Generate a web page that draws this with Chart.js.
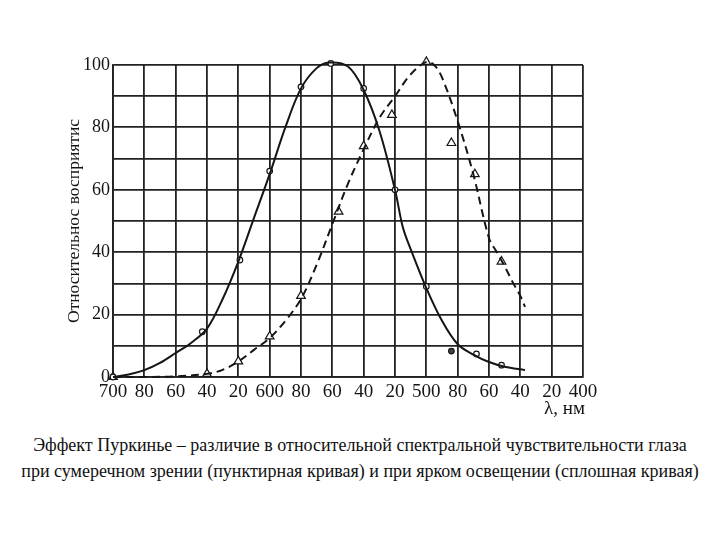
<!DOCTYPE html>
<html>
<head>
<meta charset="utf-8">
<script src="https://cdn.jsdelivr.net/npm/chart.js@4"></script>
<style>
  html, body { margin: 0; padding: 0; background: #fff; }
  #wrap { position: relative; width: 720px; height: 540px; }
  #c { position: absolute; left: 0; top: 0; }
  #cap { position: absolute; left: 0; top: 432px; width: 720px; text-align: center;
         font-family: "Times New Roman", "Liberation Serif", Tinos, "Noto Serif", "DejaVu Serif", serif; font-size: 18px; line-height: 26px; color: #111; }
</style>
</head>
<body>
<div id="wrap">
  <canvas id="c" width="720" height="420"></canvas>
  <div id="cap">Эффект Пуркинье – различие в относительной спектральной чувствительности глаза<br>при сумеречном зрении (пунктирная кривая) и при ярком освещении (сплошная кривая)</div>
</div>
<script>
// X tick values (nm) and their printed labels
const xTickValues = [700, 680, 660, 640, 620, 600, 580, 560, 540, 520, 500, 480, 460, 440, 420, 400];
const xTickLabels = ['700', '80', '60', '40', '20', '600', '80', '60', '40', '20', '500', '80', '60', '40', '20', '400'];
const yTickLabels = ['0', '20', '40', '60', '80', '100'];
const xAxisTitle = 'λ, нм';
const yAxisTitle = 'Относительнос восприятис';

// Photopic (bright light) – solid curve
const photopicCurveX = [700, 690, 680, 670, 660, 650, 640, 630, 620, 610, 600, 590, 580, 570, 562, 550, 540, 530, 520, 515, 510, 500, 490, 480, 470, 460, 450, 437];
const photopicCurveY = [0, 0.8, 2.2, 4.5, 7.7, 11, 15.5, 25, 37, 51, 65, 80, 92.5, 99, 100.8, 99.5, 92, 79, 60, 48, 41, 28.5, 18, 10.5, 7.2, 4.8, 3.3, 2.2];
// Photopic measured points (circles)
const photopicPtsX = [700, 643, 619, 600, 580, 561, 540, 520, 500, 484, 468, 452];
const photopicPtsY = [0, 14.5, 37.5, 66, 93, 100.5, 92.5, 60, 29, 8.3, 7.4, 3.8];

// Scotopic (twilight) – dashed curve
const scotopicCurveX = [700, 680, 660, 640, 630, 620, 610, 600, 590, 580, 570, 560, 550, 540, 530, 520, 510, 500, 495, 490, 480, 470, 460, 455, 450, 445, 440, 437];
const scotopicCurveY = [0, 0, 0.2, 1, 2.3, 5, 8.7, 12.5, 18, 25, 36, 49, 62, 73, 83, 90, 97, 101, 100, 96, 82, 65, 44.5, 40, 35.5, 30.5, 26, 22.5];
// Scotopic measured points (triangles)
const scotopicPtsX = [700, 640, 620, 600, 580, 556, 540, 522, 500, 484, 469, 452];
const scotopicPtsY = [0, 1, 5, 13, 26, 53, 74, 84, 101, 75, 65, 37];

const toXY = (xs, ys) => xs.map((x, i) => ({ x: x, y: ys[i] }));
const SERIF = '"Times New Roman", "Liberation Serif", Tinos, "Noto Serif", "DejaVu Serif", serif';
const INK = '#151515';
const GRID = '#222222';

const xTitlePlugin = {
  id: 'xTitle',
  afterDraw(chart) {
    const { ctx, chartArea } = chart;
    ctx.save();
    ctx.fillStyle = INK;
    ctx.font = '19px ' + SERIF;
    ctx.textAlign = 'right';
    ctx.textBaseline = 'middle';
    ctx.fillText(xAxisTitle, chartArea.right + 2, chartArea.bottom + 32);
    ctx.restore();
  }
};

new Chart(document.getElementById('c'), {
  type: 'scatter',
  data: {
    datasets: [
      { label: 'photopic curve', data: toXY(photopicCurveX, photopicCurveY), showLine: true, clip: false,
        borderColor: INK, borderWidth: 2, pointRadius: 0, tension: 0.35, fill: false },
      { label: 'scotopic curve', data: toXY(scotopicCurveX, scotopicCurveY), showLine: true, clip: false,
        borderColor: INK, borderWidth: 2, borderDash: [8, 5], pointRadius: 0, tension: 0.35, fill: false },
      { label: 'photopic points', data: toXY(photopicPtsX, photopicPtsY), showLine: false, clip: false,
        pointStyle: 'circle', pointRadius: 2.8, pointBorderWidth: 1.2, pointBorderColor: INK,
        pointBackgroundColor: photopicPtsX.map(x => (x === 484 ? '#444' : '#fff')) },
      { label: 'scotopic points', data: toXY(scotopicPtsX, scotopicPtsY), showLine: false, clip: false,
        pointStyle: 'triangle', pointRadius: 5, pointBorderWidth: 1.2, pointBorderColor: INK, pointBackgroundColor: '#fff' }
    ]
  },
  plugins: [xTitlePlugin],
  options: {
    responsive: false,
    animation: false,
    devicePixelRatio: 1,
    layout: { padding: { left: 64, top: 65, right: 137, bottom: 0 } },
    plugins: { legend: { display: false }, tooltip: { enabled: false } },
    scales: {
      x: {
        type: 'linear', reverse: true, min: 400, max: 700,
        afterBuildTicks: (s) => { s.ticks = xTickValues.map(v => ({ value: v })); },
        afterFit: (s) => { s.height = 43; },
        grid: { color: GRID, lineWidth: 1.8, drawTicks: false },
        border: { color: GRID, width: 1.8 },
        ticks: { color: INK, font: { family: SERIF, size: 19 }, padding: 4, maxRotation: 0, autoSkip: false,
                 callback: (v) => { const i = xTickValues.indexOf(v); return i >= 0 ? xTickLabels[i] : ''; } }
      },
      y: {
        min: 0, max: 100,
        ticks: { stepSize: 10, color: INK, font: { family: SERIF, size: 18 }, padding: 3,
                 callback: (v) => (v % 20 === 0 ? yTickLabels[v / 20] : '') },
        afterFit: (s) => { s.width = 49; },
        grid: { color: GRID, lineWidth: 1.8, drawTicks: false },
        border: { color: GRID, width: 1.8 },
        title: { display: true, text: yAxisTitle, color: INK, font: { family: SERIF, size: 17.5 }, padding: { top: 0, bottom: 0 } }
      }
    }
  }
});
</script>
</body>
</html>
